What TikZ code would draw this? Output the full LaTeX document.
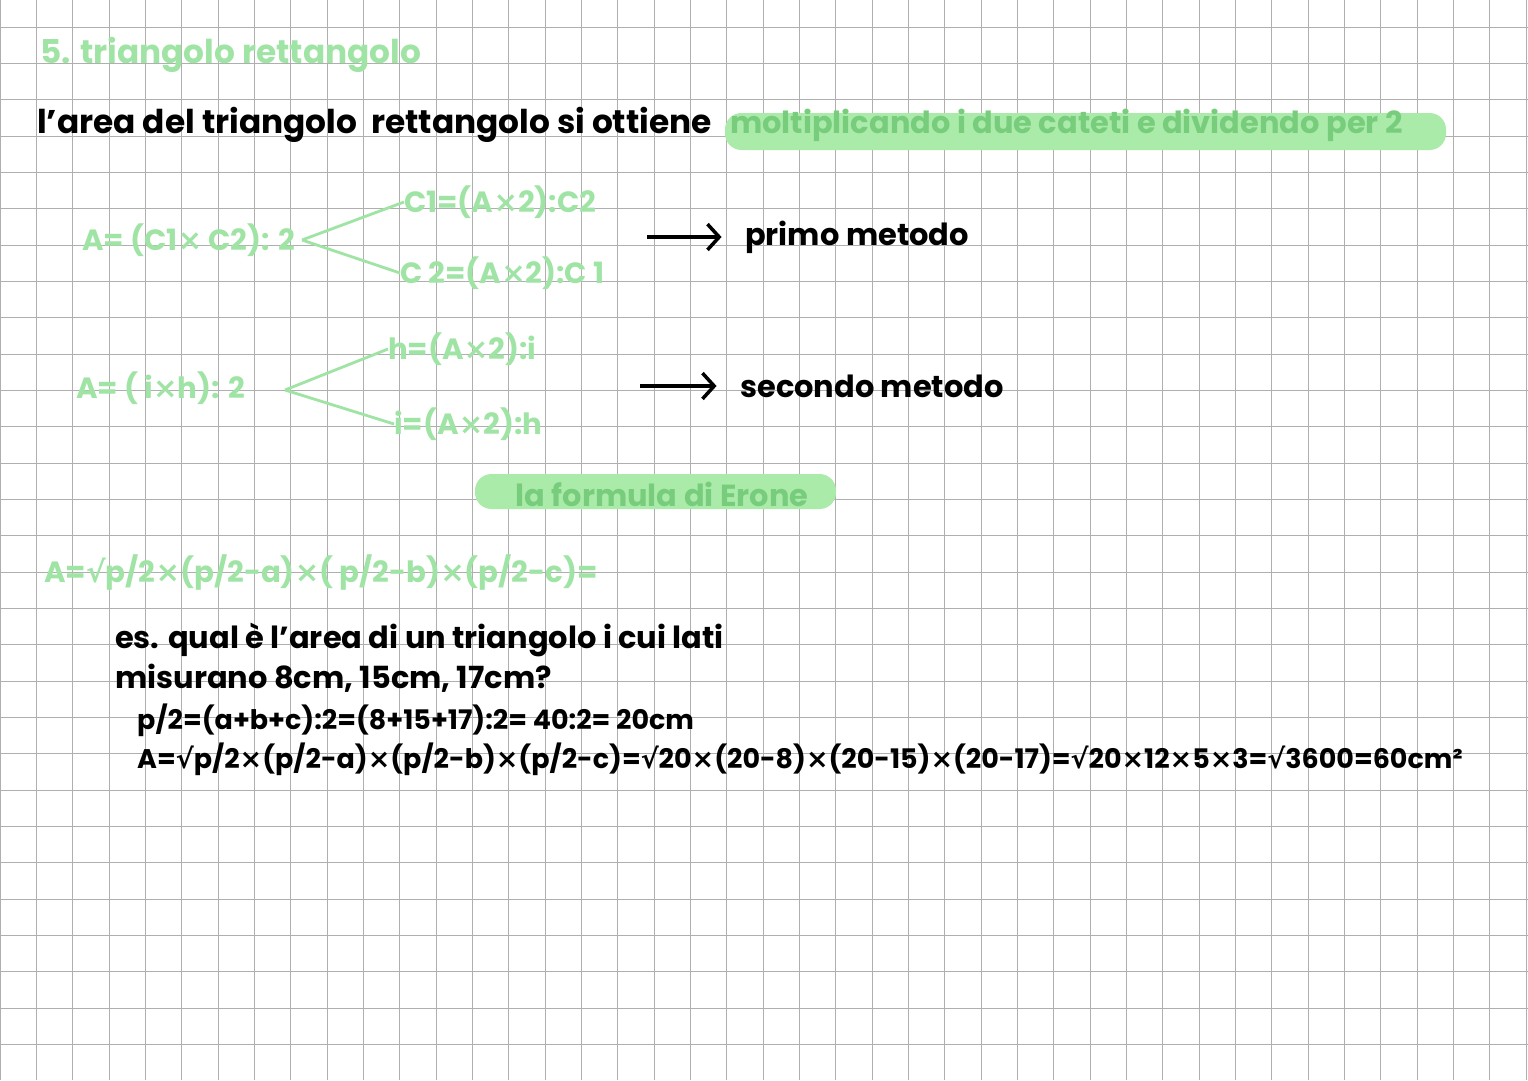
\documentclass[tikz,border=0pt]{standalone}
\usepackage{fontspec}
\setmainfont{Poppins}
\newfontfamily\symf{DejaVu Sans}
\usetikzlibrary{positioning,arrows.meta}
\definecolor{chalk}{RGB}{160,228,165}
\definecolor{marker}{RGB}{170,235,170}
\definecolor{ink}{RGB}{120,205,125}
\definecolor{gridline}{RGB}{175,175,175}
\newcommand{\tm}{{\symf ×}}
\newcommand{\rt}{{\symf √}}
\tikzset{
  pen/.style={anchor=west, inner sep=0pt, font=\bfseries\fontsize{25}{28}\selectfont},
  bigpen/.style={pen, font=\bfseries\fontsize{28}{30}\selectfont},
  greenpen/.style={pen, text=chalk},
  hilite/.style={fill=marker, rounded corners=14pt},
  branch/.style={chalk, line width=2.4pt},
  barb/.style={-{Straight Barb[length=10pt,width=22pt,line width=3pt]}, line width=3pt},
}
\begin{document}
\begin{tikzpicture}[x=0.03cm, y=-0.03cm]
  \useasboundingbox (0,0) rectangle (1528,1080);
  % grid
  \foreach \gx in {0,36.33,...,1528} \draw[gridline, line width=0.5pt] (\gx,0) -- (\gx,1080);
  \foreach \gy in {27,63.33,...,1080} \draw[gridline, line width=0.5pt] (0,\gy) -- (1528,\gy);
  % highlights
  \fill[hilite] (725,113) rectangle (1446,150);
  \fill[hilite] (475,474) rectangle (836,509);
  % title and intro
  \node[bigpen, text=chalk] (title) at (40,55) {5. triangolo rettangolo};
  \node[bigpen] (intro) at (37,125) {l'area del triangolo \ rettangolo si ottiene};
  \node[pen, text=ink, font=\bfseries\fontsize{26}{28}\selectfont] (hint) at (730,125) {moltiplicando i due cateti e dividendo per 2};
  % first method
  \node[greenpen] (areaA) at (82,240) {A= (C1\tm\ C2): 2};
  \node[greenpen] (catA) at (404,202) {C1=(A\tm2):C2};
  \node[greenpen] (catB) at (400,273) {C 2=(A\tm2):C 1};
  \coordinate (forkA) at (302,240);
  \draw[branch] (forkA) -- (catA.west);
  \draw[branch] (forkA) -- (catB.west);
  \node[pen, font=\bfseries\fontsize{26}{28}\selectfont] (primo) at (745,237) {primo metodo};
  \draw[barb] (647,237) -- ([xshift=-20pt]primo.west);
  % second method
  \node[greenpen] (areaB) at (76,388) {A= ( i\tm h): 2};
  \node[greenpen] (altH) at (388,349) {h=(A\tm2):i};
  \node[greenpen] (baseI) at (394,424) {i=(A\tm2):h};
  \coordinate (forkB) at (285,390);
  \draw[branch] (forkB) -- (altH.west);
  \draw[branch] (forkB) -- (baseI.west);
  \node[pen, font=\bfseries\fontsize{26}{28}\selectfont] (secondo) at (740,386) {secondo metodo};
  \draw[barb] (640,386) -- ([xshift=-20pt]secondo.west);
  % Erone
  \node[pen, anchor=center, text=ink, font=\bfseries\fontsize{26}{28}\selectfont] (erone) at (662,494) {la formula di Erone};
  \node[greenpen] (formula) at (44,572) {A=\rt p/2\tm(p/2-a)\tm( p/2-b)\tm(p/2-c)=};
  % example
  \node[pen, align=left, anchor=north west, font=\bfseries\fontsize{26}{34}\selectfont] (es) at (115,623)
    {es. qual è l'area di un triangolo i cui lati\\misurano 8cm, 15cm, 17cm?};
  \node[pen, font=\bfseries\fontsize{23}{26}\selectfont] (semi) at (137,720) {p/2=(a+b+c):2=(8+15+17):2= 40:2= 20cm};
  \node[pen, font=\bfseries\fontsize{23}{26}\selectfont] (result) at (137,759)
    {A=\rt p/2\tm(p/2-a)\tm(p/2-b)\tm(p/2-c)=\rt20\tm(20-8)\tm(20-15)\tm(20-17)=\rt20\tm12\tm5\tm3=\rt3600=60cm²};
\end{tikzpicture}
\end{document}
